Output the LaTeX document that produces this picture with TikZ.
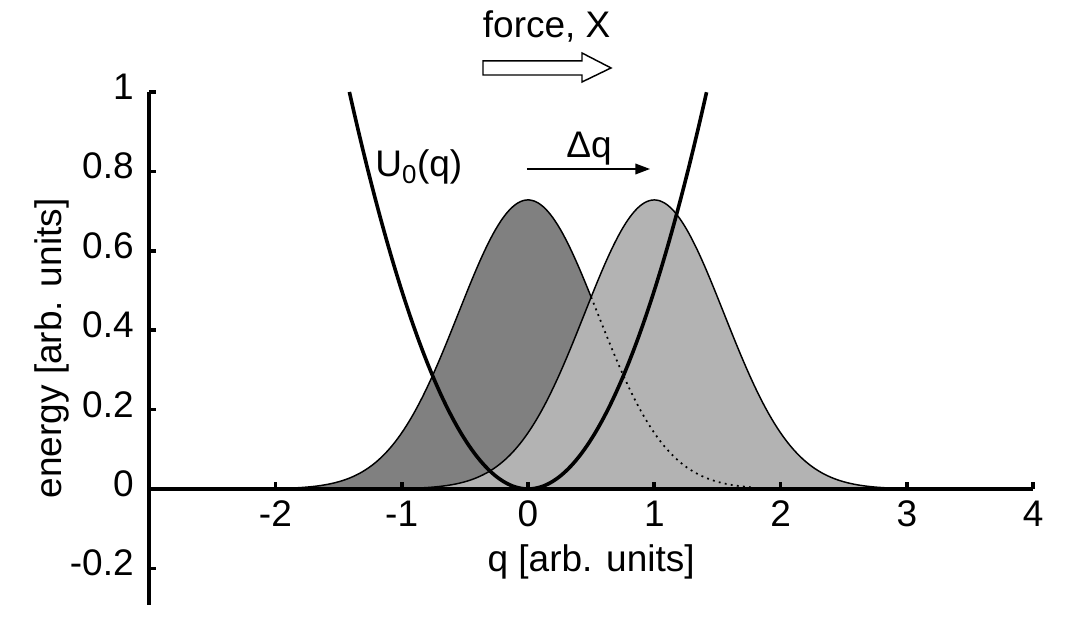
\documentclass[tikz,border=0pt]{standalone}
\usepackage{fontspec}
\setmainfont{Liberation Sans}
\usetikzlibrary{arrows.meta}
\definecolor{darkfill}{HTML}{808080}
\definecolor{lightfill}{HTML}{B3B3B3}
\begin{document}
\begin{tikzpicture}[x=94.725pt,y=297.75pt,
  lbl/.style={inner sep=0pt,font=\fontsize{27.75}{33}\selectfont},
  axisline/.style={line width=2.8pt},
  gauss/.style={line width=1.1pt},
  potential/.style={line width=2.7pt},
  thinarrow/.style={line width=1.1pt,-{Triangle[length=11pt,width=8pt]}},
  blockarrow/.style={line width=1.1pt,fill=white,line join=miter}]
\useasboundingbox (-4.1805,-0.3375) rectangle (4.2597,1.2317);
% gaussians
\fill[darkfill] plot[domain=-2.3:2.3,samples=120,smooth] (\x,{0.728*exp(-(\x)*(\x)/0.61)}) -- cycle;
\draw[gauss] plot[domain=-2.3:0.6,samples=80,smooth] (\x,{0.728*exp(-(\x)*(\x)/0.61)});
\fill[lightfill] plot[domain=-1.3:3.3,samples=120,smooth] (\x,{0.728*exp(-(\x-1)*(\x-1)/0.61)}) -- cycle;
\draw[gauss] plot[domain=-1.3:3.3,samples=120,smooth] (\x,{0.728*exp(-(\x-1)*(\x-1)/0.61)});
\draw[line width=1.3pt,dash pattern=on 1.4pt off 3.2pt] plot[domain=0.5:1.78,samples=50,smooth] (\x,{0.728*exp(-(\x)*(\x)/0.61)});
% potential
\draw[potential] plot[domain=-1.4142:1.4142,samples=80,smooth] (\x,{0.5*(\x)*(\x)});
% axes
\coordinate (yTop) at (-3,1);
\coordinate (yBot) at (-3,-0.292);
\coordinate (xL) at (-3,0);
\coordinate (xR) at (4,0);
\draw[axisline] (yTop) -- (yBot);
\draw[axisline] (xL) -- (xR);
\foreach \v/\t in {1/1,0.8/0.8,0.6/0.6,0.4/0.4,0.2/0.2,0/0,-0.2/-0.2}{
  \draw[axisline] (-3,\v) -- ++(0.055,0);
  \node[lbl,anchor=base east] (yl\t) at (-3.12,\v-0.019) {\t};
}
\foreach \q in {-2,-1,0,1,2,3,4}{
  \draw[axisline] (\q,0) -- ++(0,0.018);
  \node[lbl,anchor=base] (xl\q) at (\q,-0.0957) {\q};
}
\node[lbl,anchor=base] (xlabel) at (0.5,-0.208) {q [arb. units]};
\node[lbl,anchor=base,rotate=90] (ylabel) at (-3.69,0.354) {energy [arb. units]};
% labels
\node[lbl,anchor=base west] (U0) at (-1.211,0.786) {U\textsubscript{0}(q)};
\node[lbl,anchor=base] (dq) at (0.483,0.836) {Δq};
\coordinate (dqA) at (-0.0095,0.806);
\coordinate (dqB) at (0.966,0.806);
\draw[thinarrow] (dqA) -- (dqB);
% force
\node[lbl,anchor=base] (force) at (0.148,1.136) {force, X};
\draw[blockarrow] (-0.3563,1.0781) -- (0.4276,1.0781) -- (0.4276,1.0982) -- (0.6572,1.0605)
  -- (0.4276,1.0252) -- (0.4276,1.0428) -- (-0.3563,1.0428) -- cycle;
\end{tikzpicture}
\end{document}
